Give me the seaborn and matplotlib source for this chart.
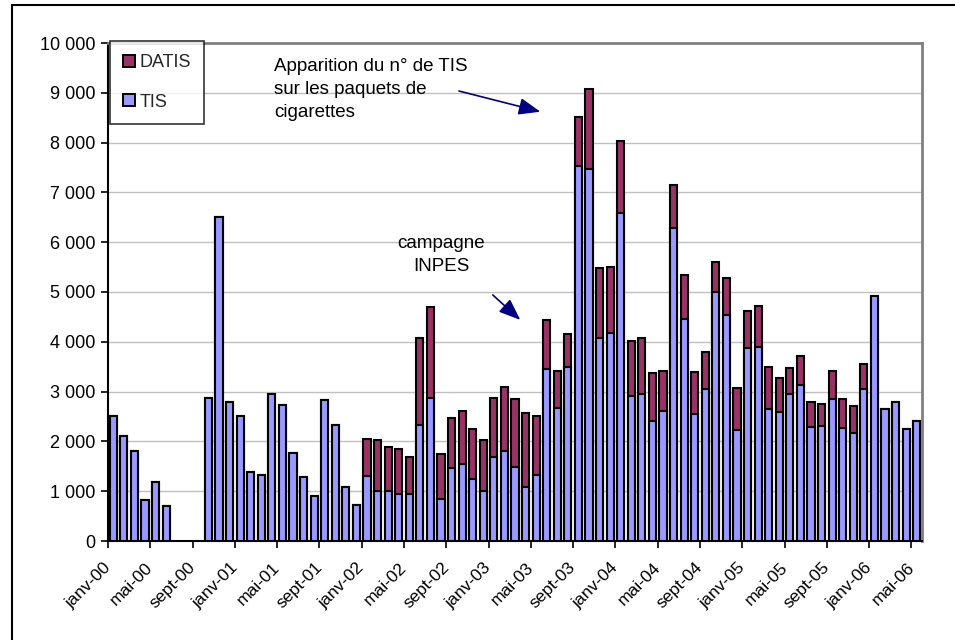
import numpy as np
import pandas as pd
import matplotlib
matplotlib.use("Agg")
import matplotlib.pyplot as plt
from matplotlib.patches import Patch
from matplotlib.lines import Line2D
from matplotlib.transforms import ScaledTranslation
import seaborn as sns

sns.set_theme(style="white")
plt.rcParams['font.family'] = ['Liberation Sans', 'DejaVu Sans']

mois = ["janv", "févr", "mars", "avr", "mai", "juin", "juil", "août", "sept", "oct", "nov", "déc"]
months = [f"{m}-{y:02d}" for y in range(0, 7) for m in mois][:77]

tis = [2520, 2100, 1810, 830, 1180, 700, np.nan, np.nan, np.nan, 2880, 6500, 2800,
       2510, 1380, 1320, 2960, 2730, 1760, 1280, 910, 2830, 2330, 1090, 720,
       1300, 1000, 1010, 940, 950, 2330, 2870, 850, 1470, 1550, 1250, 1000,
       1680, 1810, 1480, 1090, 1320, 3450, 2670, 3490, 7540, 7470, 4080, 4170,
       6580, 2920, 2950, 2410, 2620, 6280, 4450, 2550, 3050, 5000, 4530, 2230,
       3870, 3900, 2650, 2600, 2950, 3140, 2290, 2310, 2850, 2260, 2170, 3050,
       4920, 2650, 2800, 2240, 2400]
datis = [0] * 24 + [
       750, 1020, 880, 910, 730, 1750, 1820, 890, 1000, 1060, 1000, 1030,
       1200, 1280, 1380, 1480, 1190, 980, 750, 670, 970, 1600, 1410, 1330,
       1450, 1100, 1120, 960, 790, 870, 900, 840, 750, 600, 760, 840,
       750, 820, 840, 680, 520, 580, 510, 450, 560, 600, 550, 500] + [0] * 5

tick_labels = months[::4]

df = pd.DataFrame({"mois": months, "TIS": tis, "DATIS": datis})
df["total"] = df["TIS"] + df["DATIS"]

purple = "#993366"
blue = "#9999FF"

fig = plt.figure(figsize=(9.55, 6.4), dpi=100)
ax = fig.add_axes([108 / 955, 1 - 541 / 640, 814 / 955, 498 / 640])

ax.yaxis.grid(True, color="#c0c0c0", linewidth=1.0, zorder=0)
ax.set_axisbelow(True)

sns.barplot(data=df, x="mois", y="total", order=months, color=purple, width=0.68,
            edgecolor="black", linewidth=1.5, saturation=1, errorbar=None, ax=ax, zorder=2)
sns.barplot(data=df, x="mois", y="TIS", order=months, color=blue, width=0.68,
            edgecolor="black", linewidth=1.5, saturation=1, errorbar=None, ax=ax, zorder=3)

ax.set_xlim(-0.5, len(months) - 0.5)
ax.set_ylim(0, 10000)
ax.set_xlabel("")
ax.set_ylabel("")

yt = np.arange(0, 10001, 1000)
ax.set_yticks(yt)
ax.set_yticklabels([f"{v:,}".replace(",", " ") for v in yt], fontsize=13, color="black")
xpos = np.arange(0, len(months), 4) - 0.5
ax.set_xticks(xpos)
ax.set_xticklabels(tick_labels, rotation=45, ha="right", rotation_mode="anchor",
                   fontsize=12.5, color="black")
ax.tick_params(axis="both", which="major", direction="out", length=5, width=1.2,
               color="black", left=True, bottom=True, pad=4)
off = ScaledTranslation(-5 / 100, -6 / 100, fig.dpi_scale_trans)
for lab in ax.get_xticklabels():
    lab.set_transform(lab.get_transform() + off)

for s in ["left", "bottom"]:
    ax.spines[s].set_color("black")
    ax.spines[s].set_linewidth(1.5)
for s in ["top", "right"]:
    ax.spines[s].set_color("#808080")
    ax.spines[s].set_linewidth(2)

handles = [Patch(facecolor=purple, edgecolor="black", linewidth=1.4, label="DATIS"),
           Patch(facecolor=blue, edgecolor="black", linewidth=1.4, label="TIS")]
leg = ax.legend(handles=handles, loc="upper left", bbox_to_anchor=(0.002, 1.005),
                fontsize=13, frameon=True, fancybox=False, shadow=False,
                handlelength=0.65, handleheight=0.65, handletextpad=0.25,
                labelspacing=1.25, borderpad=0.75, borderaxespad=0)
leg.get_frame().set_edgecolor("black")
leg.get_frame().set_linewidth(1.2)

ax.text(15.2, 9700, "Apparition du n° de TIS\nsur les paquets de\ncigarettes",
        fontsize=13.5, ha="left", va="top", linespacing=1.45, color="black", zorder=5)
ax.annotate("", xy=(40.4, 8620), xytext=(32.7, 9036),
            arrowprops=dict(arrowstyle="-|>,head_length=1.1,head_width=0.43",
                            color="#000080", lw=1.2, shrinkA=0, shrinkB=0), zorder=5)
ax.text(31.0, 5740, "campagne\nINPES", fontsize=13.5, ha="center", va="center",
        linespacing=1.45, color="black", zorder=5)
ax.annotate("", xy=(38.5, 4440), xytext=(35.9, 4940),
            arrowprops=dict(arrowstyle="-|>,head_length=1.1,head_width=0.43",
                            color="#000080", lw=1.2, shrinkA=0, shrinkB=0), zorder=5)

# outer frame
fig.add_artist(Line2D([12 / 955, 12 / 955], [0, 1 - 5 / 640], transform=fig.transFigure,
                      color="black", linewidth=1.5))
fig.add_artist(Line2D([12 / 955, 1], [1 - 5 / 640, 1 - 5 / 640], transform=fig.transFigure,
                      color="black", linewidth=1.5))

fig.savefig("out.png", dpi=100)
